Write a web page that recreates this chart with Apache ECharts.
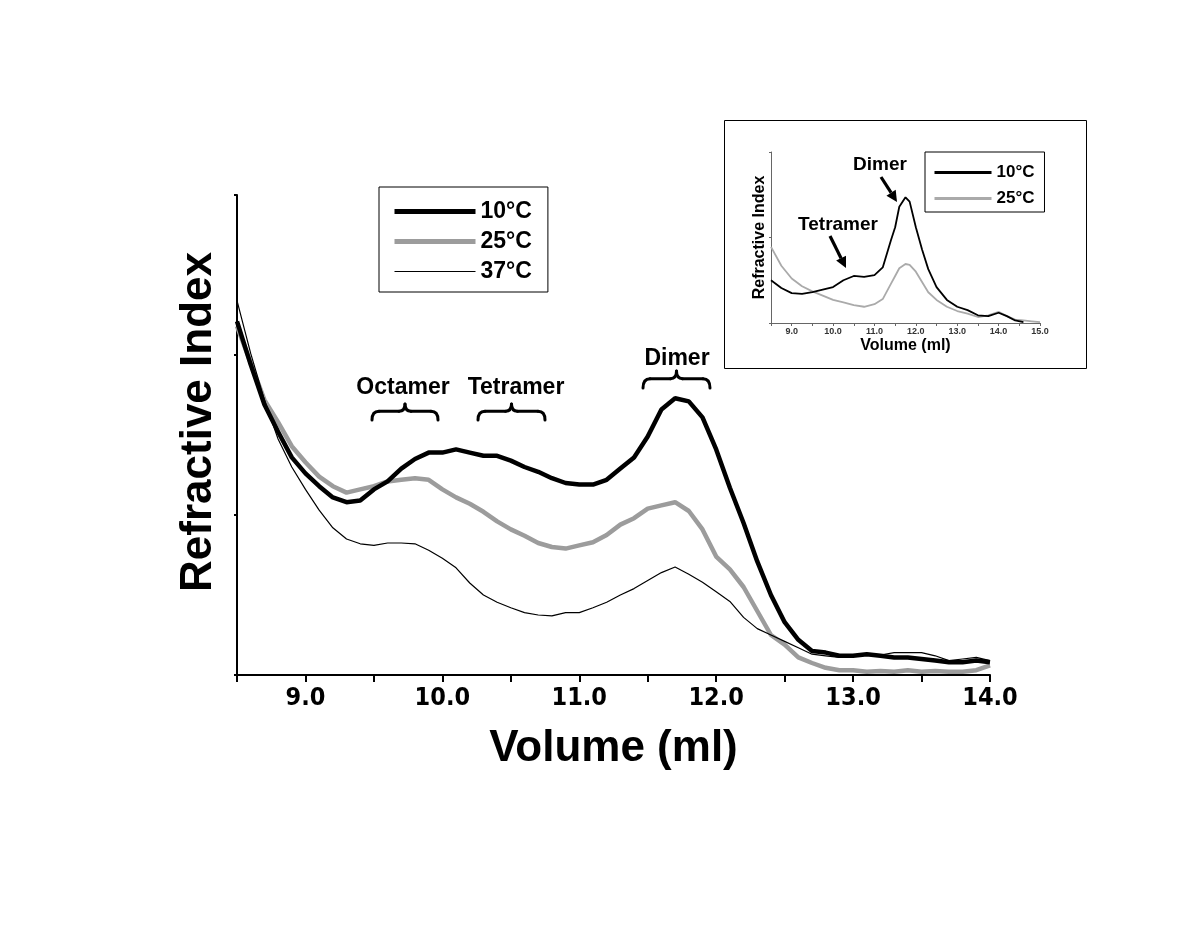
<!DOCTYPE html>
<html><head><meta charset="utf-8">
<script src="https://cdn.jsdelivr.net/npm/echarts@6/dist/echarts.min.js"></script>
<style>html,body{margin:0;padding:0;background:#fff}#c{width:1200px;height:927px}</style>
</head><body><div id="c"></div>
<script>
// ---- Main chart data (volume in ml, refractive index in arbitrary units) ----
const volume = [8.5,8.6,8.7,8.8,8.9,9.0,9.1,9.2,9.3,9.4,9.5,9.6,9.7,9.8,9.9,10.0,10.1,10.2,10.3,10.4,10.5,10.6,10.7,10.8,10.9,11.0,11.1,11.2,11.3,11.4,11.5,11.6,11.7,11.8,11.9,12.0,12.1,12.2,12.3,12.4,12.5,12.6,12.7,12.8,12.9,13.0,13.1,13.2,13.3,13.4,13.5,13.6,13.7,13.8,13.9,14.0];
const ri10 = [2.21,1.94,1.69,1.52,1.36,1.26,1.18,1.11,1.08,1.09, 1.16,1.21,1.29,1.35,1.39,1.39,1.41,1.39,1.37,1.37, 1.34,1.30,1.27,1.23,1.20,1.19,1.19,1.22,1.29,1.36, 1.49,1.66,1.73,1.71,1.61,1.41,1.17,0.95,0.71,0.50, 0.33,0.22,0.15,0.14,0.12,0.12,0.13,0.12,0.11,0.11, 0.10,0.09,0.08,0.08,0.09,0.08];
const ri25 = [2.18,1.95,1.72,1.58,1.43,1.33,1.24,1.18,1.14,1.16, 1.18,1.21,1.22,1.23,1.22,1.16,1.11,1.07,1.02,0.96, 0.91,0.87,0.825,0.80,0.79,0.81,0.83,0.875,0.94,0.98, 1.04,1.06,1.08,1.025,0.91,0.74,0.66,0.55,0.40,0.25, 0.19,0.11,0.075,0.045,0.03,0.03,0.02,0.025,0.02,0.03, 0.02,0.025,0.02,0.02,0.03,0.06];
const ri37 = [2.34,2.01,1.72,1.475,1.30,1.16,1.03,0.92,0.85,0.82, 0.81,0.825,0.825,0.82,0.78,0.73,0.67,0.575,0.50,0.455, 0.42,0.39,0.375,0.37,0.39,0.39,0.42,0.455,0.50,0.54, 0.59,0.64,0.675,0.63,0.58,0.52,0.46,0.36,0.29,0.25, 0.21,0.17,0.13,0.12,0.11,0.12,0.125,0.125,0.14,0.14, 0.14,0.12,0.09,0.10,0.11,0.09];
const mainLegend = ['10°C','25°C','37°C'];

// ---- Inset data ----
const insetVolume = [8.5,8.75,9.0,9.25,9.5,9.75,10.0,10.25,10.5,10.75,11.0,11.2,11.4,11.5,11.6,11.75,11.85,12.0,12.15,12.3,12.5,12.75,13.0,13.25,13.5,13.75,14.0,14.2,14.4,14.6,14.8,15.0];
const inset10 = [0.50,0.41,0.35,0.34,0.36,0.39,0.42,0.50,0.55,0.54, 0.56,0.65,0.97,1.12,1.36,1.47,1.42,1.12,0.86,0.63, 0.42,0.27,0.19,0.15,0.09,0.08,0.12,0.08,0.03,0.01, null,null];
const inset25 = [0.89,0.67,0.52,0.43,0.37,0.32,0.27,0.24,0.21,0.19, 0.22,0.28,0.46,0.55,0.64,0.69,0.68,0.60,0.48,0.36, 0.27,0.19,0.14,0.11,0.07,0.09,0.13,0.08,0.04,0.03, 0.02,0.01];
const insetLegend = ['10°C','25°C'];

const pairs = (xs, ys) => xs.map((x, i) => [x, ys[i]]).filter(p => p[1] !== null);
const FF = '"Liberation Sans", Arial, Helvetica, sans-serif';
const FN = '"DejaVu Sans Condensed", "Liberation Sans Narrow", sans-serif';
const intLabel = v => (Math.abs(v - Math.round(v)) < 1e-6 ? v.toFixed(1) : '');

const STROKE = {stroke: '#000', lineWidth: 3, fill: 'none', lineCap: 'round'};
function brace(x1, x2, yTop, yBot) {
  const m = (x1 + x2) / 2, ym = yTop + (yBot - yTop) * 0.45;
  const q = (ax, ay, cx, cy, bx, by) => ({type: 'bezierCurve', shape: {x1: ax, y1: ay, cpx1: cx, cpy1: cy, x2: bx, y2: by}, style: STROKE});
  const l = (ax, ay, bx, by) => ({type: 'line', shape: {x1: ax, y1: ay, x2: bx, y2: by}, style: STROKE});
  return {type: 'group', children: [
    q(x1, yBot, x1, ym, x1 + 7, ym),
    l(x1 + 7, ym, m - 6, ym),
    q(m - 6, ym, m, ym, m, yTop),
    q(m, yTop, m, ym, m + 6, ym),
    l(m + 6, ym, x2 - 7, ym),
    q(x2 - 7, ym, x2, ym, x2, yBot)
  ]};
}
function arrow(x1, y1, x2, y2) {
  const dx = x2 - x1, dy = y2 - y1, L = Math.hypot(dx, dy), ux = dx / L, uy = dy / L;
  const hl = 11, hw = 5.5, bx = x2 - ux * hl, by = y2 - uy * hl;
  return [
    {type: 'line', shape: {x1: x1, y1: y1, x2: bx, y2: by}, style: {stroke: '#000', lineWidth: 3.2}},
    {type: 'polygon', shape: {points: [[x2, y2], [bx - uy * hw, by + ux * hw], [bx + uy * hw, by - ux * hw]]}, style: {fill: '#000'}}
  ];
}
function label(text, x, y, size) {
  return {type: 'text', x: x, y: y, style: {text: text, fontSize: size, fontWeight: 'bold', fontFamily: FF, fill: '#000', align: 'center', verticalAlign: 'middle'}};
}

const chart = echarts.init(document.getElementById('c'), null, {renderer: 'canvas'});
const option = {
  backgroundColor: '#fff',
  animation: false,
  grid: [
    {left: 237, right: 210, top: 195, bottom: 252},
    {left: 771, right: 160, top: 152, bottom: 604}
  ],
  xAxis: [
    {gridIndex: 0, type: 'value', min: 8.5, max: 14, interval: 0.5,
     axisLine: {onZero: false, lineStyle: {color: '#000', width: 2}},
     axisTick: {length: 7, lineStyle: {color: '#000', width: 2}},
     axisLabel: {formatter: intLabel, showMinLabel: true, showMaxLabel: true, fontSize: 25, fontWeight: 'bold', fontFamily: FN, color: '#000', margin: 11},
     splitLine: {show: false},
     name: 'Volume (ml)', nameLocation: 'middle', nameGap: 52,
     nameTextStyle: {fontSize: 44, fontWeight: 'bold', fontFamily: FF, color: '#000'}},
    {gridIndex: 1, type: 'value', min: 8.5, max: 15, interval: 0.5,
     axisLine: {onZero: false, lineStyle: {color: '#666', width: 1}},
     axisTick: {length: 3, lineStyle: {color: '#666', width: 1}},
     axisLabel: {formatter: intLabel, fontSize: 9, fontWeight: 'bold', fontFamily: FF, color: '#333', margin: 4},
     splitLine: {show: false},
     name: 'Volume (ml)', nameLocation: 'middle', nameGap: 15,
     nameTextStyle: {fontSize: 16, fontWeight: 'bold', fontFamily: FF, color: '#000'}}
  ],
  yAxis: [
    {gridIndex: 0, type: 'value', min: 0, max: 3, interval: 1,
     axisLine: {show: true, lineStyle: {color: '#000', width: 2}},
     axisTick: {show: true, length: 3, lineStyle: {color: '#000', width: 2}},
     axisLabel: {show: false}, splitLine: {show: false},
     name: 'Refractive Index', nameLocation: 'middle', nameGap: 16, nameRotate: 90,
     nameTextStyle: {fontSize: 44, fontWeight: 'bold', fontFamily: FF, color: '#000', padding: [0, 0, 0, 26]}},
    {gridIndex: 1, type: 'value', min: 0, max: 2, interval: 1,
     axisLine: {show: true, lineStyle: {color: '#666', width: 1}},
     axisTick: {show: true, length: 2, lineStyle: {color: '#666', width: 1}},
     axisLabel: {show: false}, splitLine: {show: false},
     name: 'Refractive Index', nameLocation: 'middle', nameGap: 3, nameRotate: 90,
     nameTextStyle: {fontSize: 16, fontWeight: 'bold', fontFamily: FF, color: '#000'}}
  ],
  legend: [
    {data: [
       {name: mainLegend[0], lineStyle: {width: 5, color: '#000'}},
       {name: mainLegend[1], lineStyle: {width: 5, color: '#9c9c9c'}},
       {name: mainLegend[2], lineStyle: {width: 1, color: '#000'}}
     ],
     orient: 'vertical', left: 379, top: 187, itemWidth: 81, itemHeight: 14, itemGap: 7,
     itemStyle: {opacity: 0},
     padding: [13, 16, 9, 13], borderColor: '#000', borderWidth: 1,
     textStyle: {fontSize: 23, fontWeight: 'bold', fontFamily: FF, color: '#000'}},
    {data: [
       {name: 'inset10', lineStyle: {width: 3, color: '#000'}},
       {name: 'inset25', lineStyle: {width: 3, color: '#aaaaaa'}}
     ],
     orient: 'vertical', left: 925, top: 152, itemWidth: 57, itemHeight: 10, itemGap: 9,
     itemStyle: {opacity: 0},
     padding: [12, 10, 5, 8], borderColor: '#000', borderWidth: 1,
     formatter: n => (n === 'inset10' ? insetLegend[0] : insetLegend[1]),
     textStyle: {fontSize: 17, fontWeight: 'bold', fontFamily: FF, color: '#000'}}
  ],
  series: [
    {name: '25°C', type: 'line', xAxisIndex: 0, yAxisIndex: 0, data: pairs(volume, ri25), symbol: 'none', showSymbol: false,
     lineStyle: {color: '#9c9c9c', width: 4.5}, itemStyle: {color: '#9c9c9c'}, z: 2},
    {name: '10°C', type: 'line', xAxisIndex: 0, yAxisIndex: 0, data: pairs(volume, ri10), symbol: 'none', showSymbol: false,
     lineStyle: {color: '#000', width: 4.5}, itemStyle: {color: '#000'}, z: 3},
    {name: '37°C', type: 'line', xAxisIndex: 0, yAxisIndex: 0, data: pairs(volume, ri37), symbol: 'none', showSymbol: false,
     lineStyle: {color: '#000', width: 1.2}, itemStyle: {color: '#000'}, z: 4},
    {name: 'inset25', type: 'line', xAxisIndex: 1, yAxisIndex: 1, data: pairs(insetVolume, inset25), symbol: 'none', showSymbol: false,
     lineStyle: {color: '#aaaaaa', width: 1.8}, itemStyle: {color: '#aaaaaa'}, z: 2},
    {name: 'inset10', type: 'line', xAxisIndex: 1, yAxisIndex: 1, data: pairs(insetVolume, inset10), symbol: 'none', showSymbol: false,
     lineStyle: {color: '#000', width: 1.8}, itemStyle: {color: '#000'}, z: 3}
  ],
  graphic: [
    {type: 'rect', shape: {x: 724.5, y: 120.5, width: 362, height: 248}, style: {fill: 'none', stroke: '#000', lineWidth: 1}},
    label('Octamer', 403, 388, 23),
    label('Tetramer', 516, 388, 23),
    label('Dimer', 677, 359, 23),
    brace(372, 438, 404, 420),
    brace(478, 545, 404, 420),
    brace(643, 710, 371, 388),
    label('Dimer', 880, 165, 19),
    label('Tetramer', 838, 225, 19)
  ].concat(arrow(881, 177, 897, 202), arrow(830, 236, 846, 268))
};
chart.setOption(option);
</script></body></html>
